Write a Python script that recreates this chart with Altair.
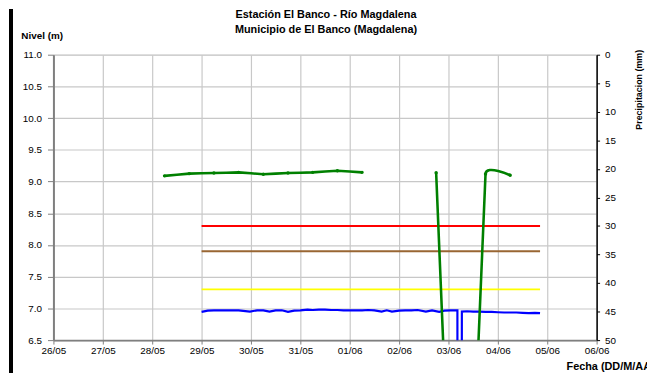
import altair as alt
import pandas as pd

# ---------------- data ----------------
title_lines = ["Estación El Banco - Río Magdalena", "Municipio de El Banco (Magdalena)"]
title_row = [0, 1]

# Green series (level readings, 2 per day), split in segments where data is missing
green_seg = [1, 1, 1, 1, 1, 1, 1, 1, 1, 2, 2, 2, 2]
green_time = [
    "2023-05-28T06:00", "2023-05-28T18:00", "2023-05-29T06:00", "2023-05-29T18:00",
    "2023-05-30T06:00", "2023-05-30T18:00", "2023-05-31T06:00", "2023-05-31T18:00",
    "2023-06-01T06:00",
    "2023-06-02T18:00", "2023-06-03T06:00", "2023-06-03T18:00", "2023-06-04T06:00",
]
green_level = [9.09, 9.125, 9.135, 9.145, 9.115, 9.135, 9.145, 9.17, 9.145,
               9.14, 0.0, 9.12, 9.10]

# Blue series (automatic sensor level)
blue_time = [
    "2023-05-29T00:00", "2023-05-29T03:00", "2023-05-29T06:00", "2023-05-29T09:00",
    "2023-05-29T12:00", "2023-05-29T15:00", "2023-05-29T18:00", "2023-05-29T23:30",
    "2023-05-30T03:00", "2023-05-30T06:00", "2023-05-30T09:00", "2023-05-30T12:00",
    "2023-05-30T15:00", "2023-05-30T18:00", "2023-05-30T21:00", "2023-05-31T00:00",
    "2023-05-31T03:30", "2023-05-31T06:00", "2023-05-31T09:00", "2023-05-31T12:00",
    "2023-05-31T15:00", "2023-05-31T18:00", "2023-05-31T21:00", "2023-06-01T00:00",
    "2023-06-01T03:00", "2023-06-01T06:00", "2023-06-01T09:00", "2023-06-01T12:00",
    "2023-06-01T15:30", "2023-06-01T18:00", "2023-06-01T20:30", "2023-06-02T00:00",
    "2023-06-02T03:00", "2023-06-02T06:00", "2023-06-02T09:00", "2023-06-02T13:00",
    "2023-06-02T16:00", "2023-06-02T19:30", "2023-06-02T22:00", "2023-06-03T01:00",
    "2023-06-03T04:20", "2023-06-03T04:30", "2023-06-03T06:20", "2023-06-03T06:30",
    "2023-06-03T09:00", "2023-06-03T12:00", "2023-06-03T15:00", "2023-06-03T18:00",
    "2023-06-03T21:00", "2023-06-04T00:00", "2023-06-04T03:00", "2023-06-04T06:00",
    "2023-06-04T09:00", "2023-06-04T12:00", "2023-06-04T15:00", "2023-06-04T18:00",
    "2023-06-04T20:30",
]
blue_level = [
    6.945, 6.965, 6.97, 6.97, 6.97, 6.97, 6.97, 6.95,
    6.97, 6.97, 6.95, 6.97, 6.97, 6.945, 6.965, 6.97,
    6.98, 6.975, 6.98, 6.98, 6.975, 6.975, 6.97, 6.97,
    6.97, 6.97, 6.975, 6.97, 6.95, 6.97, 6.95, 6.965,
    6.97, 6.97, 6.975, 6.95, 6.97, 6.945, 6.965, 6.97,
    6.97, 0.0, 0.0, 6.95,
    6.955, 6.95, 6.95, 6.945, 6.945, 6.94, 6.935, 6.935,
    6.935, 6.93, 6.925, 6.93, 6.925,
]

# Alert thresholds
thr_name = ["Roja", "Naranja", "Amarilla"]
thr_level = [8.3, 7.9, 7.3]
thr_color = ["#FF0000", "#996633", "#FFFF00"]
thr_start = "2023-05-29T00:00"
thr_end = "2023-06-04T20:30"

# Precipitation (no records in the period)
precip_time = ["2023-05-29T00:00"]
precip_mm = [0.0]

y_ticks = [6.5, 7.0, 7.5, 8.0, 8.5, 9.0, 9.5, 10.0, 10.5, 11.0]
p_ticks = [0, 5, 10, 15, 20, 25, 30, 35, 40, 45, 50]

# ---------------- frames ----------------
green_df = pd.DataFrame({"t": green_time, "nivel": green_level, "seg": green_seg})
blue_df = pd.DataFrame({"t": blue_time, "nivel": blue_level})
thr_df = pd.DataFrame({"name": thr_name, "nivel": thr_level,
                       "t0": [thr_start] * 3, "t1": [thr_end] * 3})
precip_df = pd.DataFrame({"t": precip_time, "p": precip_mm})
title_df = pd.DataFrame({"line": title_lines, "row": title_row})

FONT = "Liberation Sans"
x_dom = [alt.DateTime(year=2023, month=5, date=26, hours=0),
         alt.DateTime(year=2023, month=6, date=6, hours=0)]

x_scale = alt.Scale(domain=x_dom, nice=False, padding=0)
x_axis = alt.Axis(
    format="%d/%m", tickCount={"interval": "day", "step": 1},
    title="Fecha (DD/M/AAAA)", titleAlign="left", titleX=519, titleY=30,
    titleAnchor="start", titleBaseline="alphabetic",
    grid=True, gridColor="#C8C8C8", gridWidth=1.2,
    domainColor="#7F7F7F", domainWidth=2, tickColor="#7F7F7F", tickSize=4,
    labelPadding=2, labelFlush=False, labelOverlap=False,
)
y_scale = alt.Scale(domain=[6.5, 11.0], nice=False, zero=False)
y_axis = alt.Axis(
    values=y_ticks, format=".1f", labelOverlap=False,
    title="Nivel (m)", titleAngle=0, titleAlign="left", titleX=-33, titleY=-16,
    titleBaseline="alphabetic", titleFontSize=10, orient="left",
    grid=True, gridColor="#C8C8C8", gridWidth=1.2,
    domainColor="#7F7F7F", domainWidth=2, tickColor="#7F7F7F", tickSize=6,
    labelPadding=6,
)

X = lambda f: alt.X(f, scale=x_scale, axis=x_axis)
Y = lambda f: alt.Y(f, scale=y_scale, axis=y_axis)

thr = alt.Chart(thr_df).mark_rule(strokeWidth=2).encode(
    x=X("t0:T"),
    x2="t1:T",
    y=Y("nivel:Q"),
    color=alt.Color("name:N", scale=alt.Scale(domain=thr_name, range=thr_color), legend=None),
)

blue = alt.Chart(blue_df).mark_line(color="#0000FF", strokeWidth=2.2, clip=True).encode(
    x=X("t:T"),
    y=Y("nivel:Q"),
)

green = alt.Chart(green_df).mark_line(
    color="#008000", strokeWidth=2.6, clip=True, interpolate="cardinal", tension=0.9
).encode(
    x=X("t:T"),
    y=Y("nivel:Q"),
    detail="seg:N",
)
green_pts = alt.Chart(green_df).mark_point(
    color="#008000", filled=True, size=12, opacity=1, clip=True
).encode(
    x=X("t:T"),
    y=Y("nivel:Q"),
)

frame = alt.Chart(blue_df).mark_rule(color="black", strokeWidth=2.5).encode(
    x=alt.value(-43), y=alt.value(-46), y2=alt.value(330)
)

titles = alt.Chart(title_df).mark_text(
    font=FONT, fontSize=11, fontWeight="bold", color="black", baseline="middle", align="center"
).encode(
    text="line:N",
    x=alt.value(276),
    y=alt.Y("row:Q", scale=alt.Scale(domain=[0, 1], range=[-40, -25], nice=False, zero=False),
            axis=None),
)

left = alt.layer(thr, blue, green, green_pts, frame)

right = alt.Chart(precip_df).mark_point(opacity=0).encode(
    x=alt.X("t:T", scale=x_scale),
    y=alt.Y("p:Q", scale=alt.Scale(domain=[0, 50], reverse=True, nice=False, zero=False),
            axis=alt.Axis(orient="right", values=p_ticks, title="Precipitacion (mm)",
                          titleAngle=270, titleX=42, titleY=35, titleAlign="center",
                          titleBaseline="middle", titleFontSize=9,
                          grid=False, domainColor="black", domainWidth=1.5,
                          tickColor="black", tickSize=3, labelPadding=5)),
)

chart = alt.layer(left, right, titles).resolve_scale(y="independent").properties(
    width=550, height=289,
    autosize=alt.AutoSizeParams(type="none"),
    padding={"left": 46, "top": 45, "right": 51, "bottom": 31},
).configure_view(stroke=None).configure_axis(
    labelFont=FONT, labelFontSize=11, labelFontWeight="bold", labelColor="black",
    titleFont=FONT, titleFontSize=11, titleFontWeight="bold", titleColor="black",
).configure(background="white")

chart.save("out.html", embed_options={"renderer": "svg", "actions": False})
